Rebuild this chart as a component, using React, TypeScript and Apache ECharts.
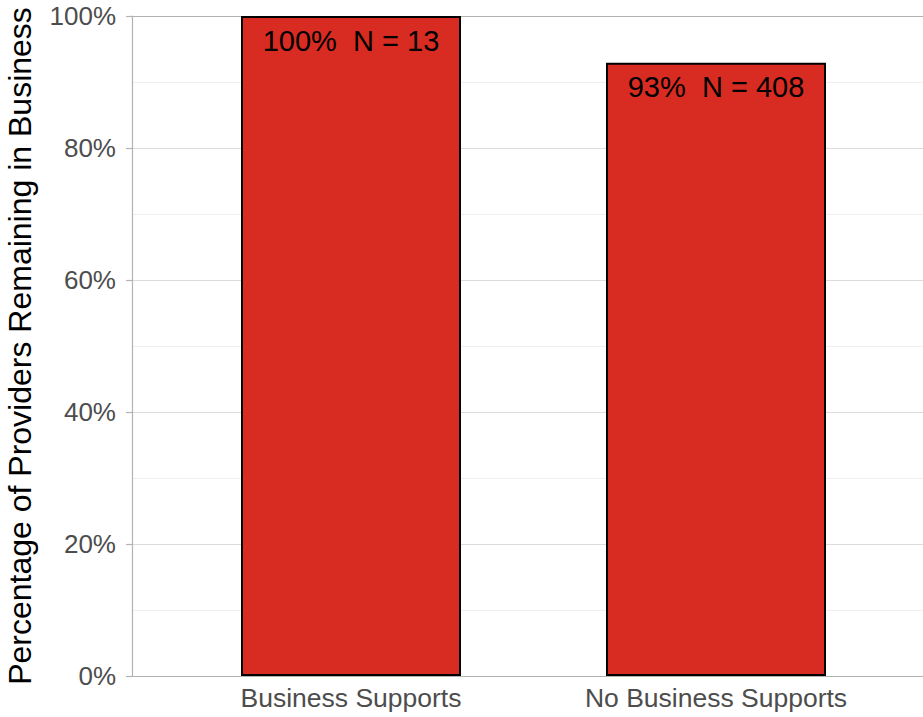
import React, { useEffect, useRef } from "react";
import * as echarts from "echarts";

const categories = ["Business Supports", "No Business Supports"];
const values = [100, 92.9];
const barLabels = ["100%  N = 13", "93%  N = 408"];
const yTicks = [0, 20, 40, 60, 80, 100];
const yTitle = "Percentage of Providers Remaining in Business";

const FONT = "'Liberation Sans', Arial, Helvetica, sans-serif";

export default function App() {
  const ref = useRef<HTMLDivElement>(null);
  useEffect(() => {
    document.body.style.margin = "0";
    const chart = echarts.init(ref.current!, null, { renderer: "svg" });
    const positions = categories.map((_, i) => i + 1);
    chart.setOption({
      animation: false,
      backgroundColor: "#ffffff",
      grid: { left: 132, top: 16, width: 803, height: 660, outerBoundsMode: "none", containLabel: false },
      xAxis: {
        type: "value",
        min: 0.4,
        max: 2.6,
        axisLine: { show: true, lineStyle: { color: "#b3b3b3", width: 1.2 } },
        axisTick: { show: false },
        splitLine: { show: false },
        axisLabel: {
          customValues: positions,
          formatter: (v: number) => categories[Math.round(v) - 1] ?? "",
          color: "#4d4d4d",
          fontSize: 26.5,
          fontFamily: FONT,
          margin: 8,
        },
      },
      yAxis: {
        type: "value",
        min: 0,
        max: 100,
        interval: 20,
        name: yTitle,
        nameLocation: "middle",
        nameGap: 96,
        nameTextStyle: { color: "#000000", fontSize: 32, fontFamily: FONT },
        axisLine: { show: true, lineStyle: { color: "#b3b3b3", width: 1.2 } },
        axisTick: { show: true, length: 6, lineStyle: { color: "#b3b3b3", width: 1.2 } },
        axisLabel: {
          formatter: (v: number) => (yTicks.includes(v) ? v + "%" : ""),
          color: "#4d4d4d",
          fontSize: 26,
          fontFamily: FONT,
          margin: 16,
        },
        splitLine: {
          show: true,
          lineStyle: { color: ["#dcdcdc", "#dcdcdc", "#dcdcdc", "#dcdcdc", "#dcdcdc", "#b3b3b3"], width: 1.2 },
        },
        minorTick: { show: false, splitNumber: 2 },
        minorSplitLine: { show: true, lineStyle: { color: "#efefef", width: 1 } },
      },
      series: [
        {
          type: "bar",
          barWidth: 220,
          data: values.map((v, i) => [positions[i], v]),
          itemStyle: { color: "#d82b22", borderColor: "#000000", borderWidth: 2 },
          label: {
            show: true,
            position: "insideTop",
            distance: 10,
            formatter: (p: any) => barLabels[p.dataIndex],
            color: "#000000",
            fontSize: 29,
            fontFamily: FONT,
          },
        },
      ],
    });
    return () => chart.dispose();
  }, []);
  return <div ref={ref} style={{ width: 923, height: 717, overflow: "hidden" }} />;
}
